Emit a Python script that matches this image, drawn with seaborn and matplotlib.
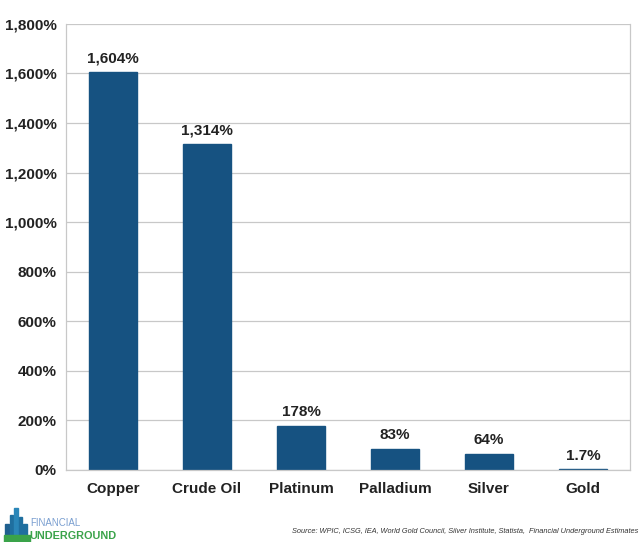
import matplotlib
matplotlib.use("Agg")
import matplotlib.pyplot as plt
import seaborn as sns
import pandas as pd
from matplotlib.ticker import FuncFormatter
from matplotlib.patches import Rectangle

categories = ["Copper", "Crude Oil", "Platinum", "Palladium", "Silver", "Gold"]
values = [1604, 1314, 178, 83, 64, 1.7]
labels = ["1,604%", "1,314%", "178%", "83%", "64%", "1.7%"]

sns.set_style("white")
plt.rcParams['font.family'] = ['Liberation Sans', 'DejaVu Sans']

df = pd.DataFrame({"cat": categories, "val": values})

fig = plt.figure(figsize=(6.42, 5.42), dpi=100)
ax = fig.add_axes([0.103, 0.133, 0.878, 0.823])
sns.barplot(data=df, x="cat", y="val", color="#165281", width=0.51, ax=ax,
            saturation=1, edgecolor="#165281", linewidth=1.0)

ax.set_ylim(0, 1800)
ax.set_yticks(range(0, 1801, 200))
ax.yaxis.set_major_formatter(FuncFormatter(lambda v, p: f"{int(v):,}%"))
ax.grid(axis="y", color="#c8c8c8", linewidth=0.9)
ax.set_axisbelow(True)
ax.set_xlabel("")
ax.set_ylabel("")
ax.spines["top"].set_visible(False)
for s in ["left", "right", "bottom"]:
    ax.spines[s].set_color("#c8c8c8")
    ax.spines[s].set_linewidth(0.9)
ax.tick_params(axis="both", length=0, labelsize=11, colors="#222222")
for t in ax.get_xticklabels() + ax.get_yticklabels():
    t.set_fontweight("bold")
ax.tick_params(axis="x", pad=9)
ax.tick_params(axis="y", pad=7)

for i, (v, lab) in enumerate(zip(values, labels)):
    ax.annotate(lab, (i, v), xytext=(0, 5), textcoords="offset points",
                ha="center", va="bottom", fontsize=11, fontweight="bold", color="#222222")

fig.text(0.995, 0.012, "Source: WPIC, ICSG, IEA, World Gold Council, Silver Institute, Statista,  Financial Underground Estimates",
         ha="right", va="bottom", fontsize=5.3, style="italic", color="#333333")

# logo
for x0, h, c in [(0.008, 0.03, "#1f5f8f"), (0.015, 0.045, "#1f6f9f"), (0.022, 0.058, "#2a86b8"),
                 (0.029, 0.042, "#1f6f9f"), (0.036, 0.03, "#1f6f9f")]:
    fig.patches.append(Rectangle((x0, 0.004), 0.006, h, transform=fig.transFigure, color=c, figure=fig))
fig.patches.append(Rectangle((0.006, 0.0), 0.040, 0.012, transform=fig.transFigure, color="#3aa34a", figure=fig))
fig.text(0.047, 0.026, "FINANCIAL", fontsize=7, color="#7a9fd0", ha="left", va="bottom")
fig.text(0.045, 0.002, "UNDERGROUND", fontsize=7.8, color="#3aa34a", ha="left", va="bottom", fontweight="bold")

fig.savefig("out.png", dpi=100)
